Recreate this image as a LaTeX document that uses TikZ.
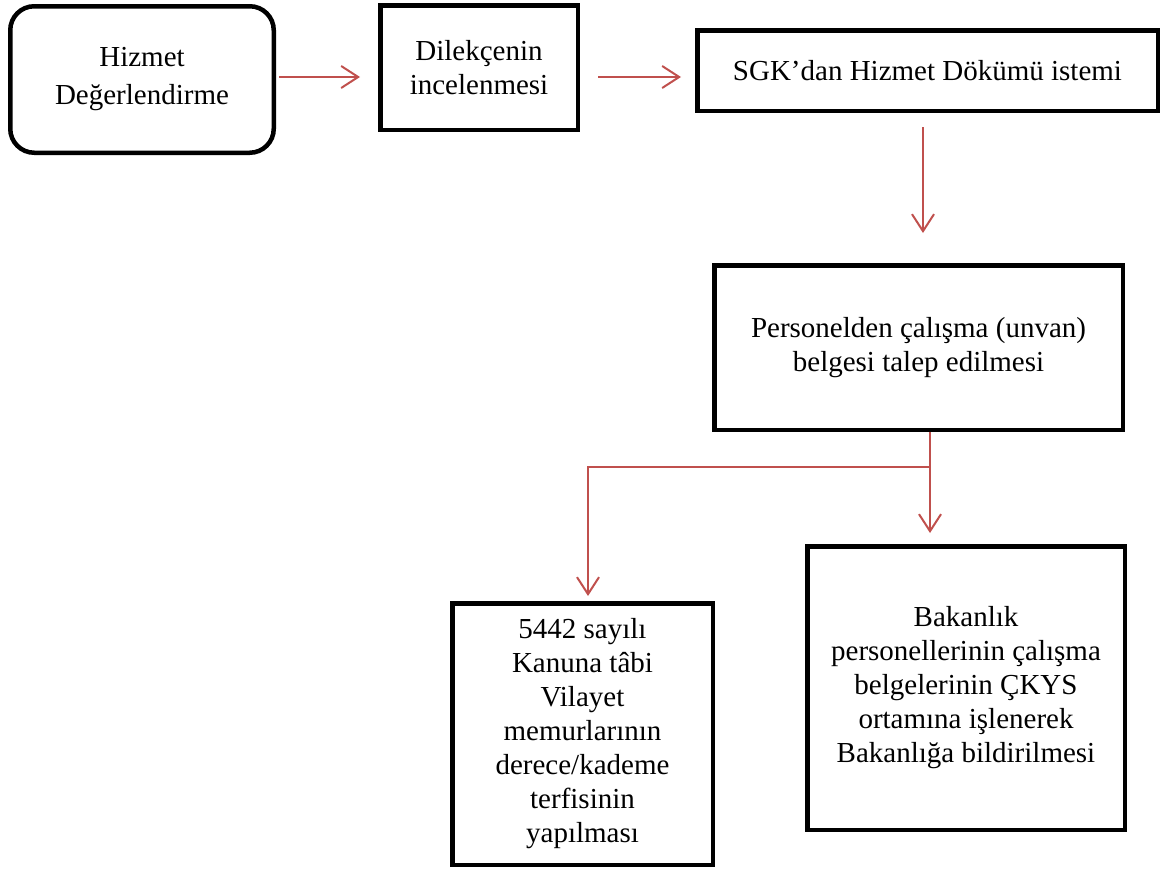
\documentclass[tikz,border=0pt]{standalone}
\usepackage{fontspec}
\setmainfont{Liberation Serif}
\usetikzlibrary{arrows.meta}
\definecolor{flowred}{HTML}{C0504D}
\begin{document}
\begin{tikzpicture}[x=1pt,y=-1pt,
  box/.style={draw=black,line width=4.5pt,fill=white,align=center,inner sep=0pt,
    font=\fontsize{29}{34}\selectfont},
  roundbox/.style={box,rounded corners=24pt,font=\fontsize{29}{38}\selectfont},
  arr/.style={draw=flowred,line width=2pt,
    -{Straight Barb[length=17pt,width=22pt,line width=2pt]}},
  branch/.style={arr,line width=1.4pt}]
\useasboundingbox (0,0) rectangle (1162,870);

% process boxes
\node[roundbox,minimum width=263.5pt,minimum height=146.5pt] (b1) at (142,79.5)
  {Hizmet\\Değerlendirme};
\node[box,minimum width=197.5pt,minimum height=124.5pt] (b2) at (479,67.5)
  {Dilekçenin\\incelenmesi};
\node[box,minimum width=460.5pt,minimum height=80.5pt] (b3) at (927.5,70.5)
  {SGK’dan Hizmet Dökümü istemi};
\node[box,minimum width=408.5pt,minimum height=164.5pt] (b4) at (918.5,347.5)
  {Personelden çalışma (unvan)\\belgesi talep edilmesi};
\node[box,minimum width=260.5pt,minimum height=261.5pt] (b5) at (582.5,734)
  {5442 sayılı\\Kanuna tâbi\\Vilayet\\memurlarının\\derece/kademe\\terfisinin\\yapılması};
\node[box,minimum width=317.5pt,minimum height=283.5pt] (b6) at (966,688)
  {Bakanlık\\personellerinin çalışma\\belgelerinin ÇKYS\\ortamına işlenerek\\Bakanlığa bildirilmesi};

% connectors
\draw[arr,shorten <=3pt,shorten >=18pt] (b1.east |- 0,77) -- (b2.west |- 0,77);
\draw[arr,shorten <=18pt,shorten >=14pt] (b2.east |- 0,77) -- (b3.west |- 0,77);
\draw[arr,shorten <=14pt,shorten >=30pt] (b3.south -| 923,0) -- (b4.north -| 923,0);
\draw[arr,shorten >=11pt] (b4.south -| 930,0) -- (b6.north -| 930,0);
\coordinate (split) at (930,467);
\draw[branch,shorten >=5pt] (split) -| (b5.north -| 588,0);
\end{tikzpicture}
\end{document}
